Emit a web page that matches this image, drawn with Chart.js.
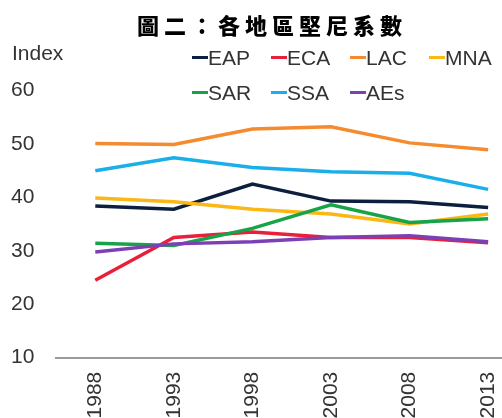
<!DOCTYPE html>
<html>
<head>
<meta charset="utf-8">
<script src="https://cdn.jsdelivr.net/npm/chart.js@4"></script>
<style>
  html, body { margin: 0; padding: 0; background: #fff; overflow: hidden; width: 502px; height: 418px; }
  #wrap { position: relative; width: 548px; height: 440px; }
  #c { position: absolute; left: 0; top: 0; }
  .title { position: absolute; left: 137px; top: 13px; font: 900 22px/22px "Noto Sans CJK TC"; letter-spacing: 5px; color: #000; white-space: nowrap; }
  .txt { position: absolute; font: 21px/21px "Liberation Sans", Arial, sans-serif; color: #333; white-space: nowrap; }
  .lg { position: absolute; display: flex; align-items: center; height: 21px; }
  .lg i { display: block; width: 16px; height: 3px; }
</style>
</head>
<body>
<div id="wrap">
  <canvas id="c" width="548" height="440"></canvas>
  <div class="title">圖二：各地區堅尼系數</div>
  <div class="txt" style="left:12px;top:42px">Index</div>
  <div id="legend"></div>
</div>
<script>
// data
const years = ['1988', '1993', '1998', '2003', '2008', '2013'];
const eap = [38.4, 37.8, 42.5, 39.3, 39.2, 38.1];
const eca = [24.5, 32.5, 33.5, 32.5, 32.5, 31.5];
const lac = [50.1, 49.9, 52.8, 53.2, 50.2, 48.9];
const mna = [39.9, 39.2, 37.8, 36.9, 35.0, 36.9];
const sar = [31.4, 31.0, 34.2, 38.6, 35.3, 36.0];
const ssa = [45.0, 47.4, 45.6, 44.8, 44.5, 41.5];
const aes = [29.8, 31.3, 31.7, 32.5, 32.8, 31.7];

const names = ['EAP', 'ECA', 'LAC', 'MNA', 'SAR', 'SSA', 'AEs'];
const series = [eap, eca, lac, mna, sar, ssa, aes];
const colors = ['#0c1f3e', '#e8203a', '#f58b2f', '#fbb714', '#19a348', '#1bafe9', '#7d3fb4'];

// legend (two rows, columns like the original)
const legendCols = [192, 271, 350, 429];
const legendRows = [47, 82];
const legend = document.getElementById('legend');
names.forEach((n, i) => {
  const el = document.createElement('div');
  el.className = 'lg txt';
  el.style.left = legendCols[i % 4] + 'px';
  el.style.top = legendRows[Math.floor(i / 4)] + 'px';
  el.innerHTML = `<i style="background:${colors[i]}"></i><span>${n}</span>`;
  legend.appendChild(el);
});

const font = { family: '"Liberation Sans", Arial, sans-serif', size: 21 };

new Chart(document.getElementById('c'), {
  type: 'line',
  data: {
    labels: years,
    datasets: series.map((d, i) => ({
      label: names[i],
      data: d,
      borderColor: colors[i],
      backgroundColor: colors[i],
      borderWidth: 3.5,
      pointRadius: 0,
      tension: 0,
      fill: false,
      order: names.length - i
    }))
  },
  options: {
    responsive: false,
    animation: false,
    layout: { padding: { left: 11, top: 90.5, right: 20.6, bottom: 20.3 } },
    plugins: { legend: { display: false }, title: { display: false }, tooltip: { enabled: false } },
    scales: {
      x: {
        offset: true,
        grid: { display: false, drawTicks: false },
        border: { display: true, color: '#9a9a9a', width: 2 },
        ticks: { font, color: '#333', minRotation: 90, maxRotation: 90, autoSkip: false, padding: 14 },
        afterFit: s => { s.height = 62; }
      },
      y: {
        min: 10,
        max: 60,
        grid: { display: false, drawTicks: false },
        border: { display: false },
        ticks: { font, color: '#333', stepSize: 10, crossAlign: 'far', padding: 0 },
        afterFit: s => { s.width = 45; }
      }
    }
  }
});
</script>
</body>
</html>
